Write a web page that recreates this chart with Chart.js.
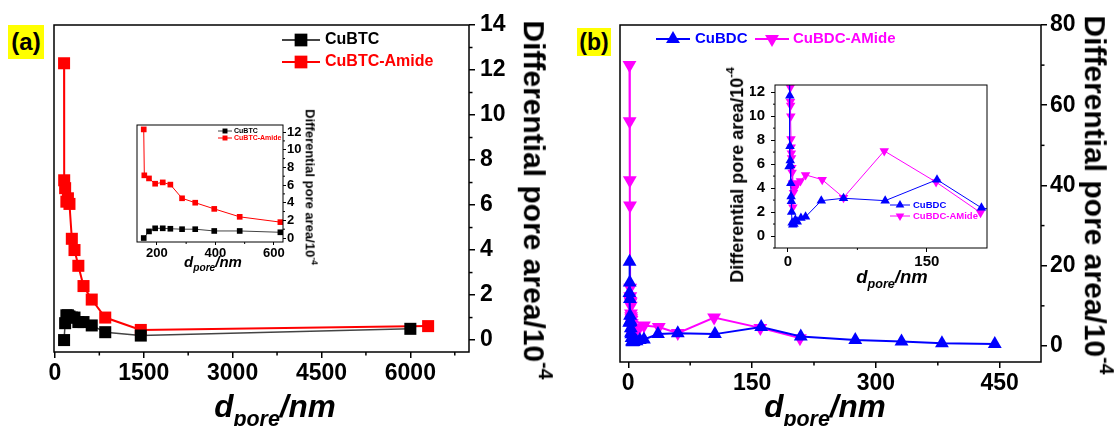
<!DOCTYPE html>
<html>
<head>
<meta charset="utf-8">
<script src="https://cdn.jsdelivr.net/npm/chart.js@4.4.1/dist/chart.umd.min.js"></script>
<style>
  body { margin: 0; background: #fff; }
  #wrap { position: relative; width: 1116px; height: 426px; overflow: hidden;
          font-family: 'Liberation Sans', Arial, sans-serif; font-weight: bold; color: #000; }
  canvas { position: absolute; }
  .tag { position: absolute; background: #ffff00; text-align: center; }
  .ttl { position: absolute; white-space: nowrap; line-height: 1; }
  .it { font-style: italic; }
  .sub { font-size: 0.68em; vertical-align: -0.4em; }
  .sup { font-size: 0.65em; vertical-align: 0.75em; }
</style>
</head>
<body>
<div id="wrap">
  <canvas id="mainA" width="560" height="426" style="left:0;top:0"></canvas>
  <canvas id="mainB" width="556" height="426" style="left:560px;top:0"></canvas>
  <canvas id="insetA" width="190" height="150" style="left:130px;top:115px"></canvas>
  <canvas id="insetB" width="260" height="200" style="left:740px;top:70px"></canvas>

  <div class="tag" style="left:8px;top:25px;width:36px;height:34px;line-height:34px;font-size:24px">(a)</div>
  <div class="tag" style="left:577px;top:28px;width:34px;height:28px;line-height:28px;font-size:23px">(b)</div>

  <div class="ttl it" style="left:275px;top:391px;font-size:31.5px;transform:translateX(-50%)">d<span class="sub">pore</span>/nm</div>
  <div class="ttl it" style="left:825px;top:391px;font-size:31.5px;transform:translateX(-50%)">d<span class="sub">pore</span>/nm</div>
  <div class="ttl" style="left:537px;top:200px;font-size:30px;transform:translate(-50%,-50%) rotate(90deg)">Differential pore area/10<span class="sup">-4</span></div>
  <div class="ttl" style="left:1098px;top:195px;font-size:30px;transform:translate(-50%,-50%) rotate(90deg)">Differential pore area/10<span class="sup">-4</span></div>

  <div class="ttl it" style="left:213px;top:254px;font-size:15px;transform:translateX(-50%)">d<span class="sub">pore</span>/nm</div>
  <div class="ttl" style="left:311px;top:187px;font-size:13px;transform:translate(-50%,-50%) rotate(90deg)">Differential pore area/10<span class="sup">-4</span></div>
  <div class="ttl it" style="left:892px;top:268px;font-size:18.5px;transform:translateX(-50%)">d<span class="sub">pore</span>/nm</div>
  <div class="ttl" style="left:735px;top:175px;font-size:18px;transform:translate(-50%,-50%) rotate(-90deg)">Differential pore area/10<span class="sup">-4</span></div>
</div>
<script>
// panel (a): CuBTC and CuBTC-Amide
const btcX   = [155, 173, 194, 220, 246, 286, 331, 396, 483, 622, 850, 1450, 6000];
const btcY   = [0.0, 0.75, 1.1, 1.1, 1.05, 1.0, 1.0, 0.8, 0.8, 0.65, 0.35, 0.2, 0.5];
const btcAmX = [155, 157, 173, 194, 220, 246, 286, 331, 396, 483, 622, 850, 1450, 6300];
const btcAmY = [12.3, 7.1, 6.75, 6.15, 6.3, 6.05, 4.5, 4.0, 3.3, 2.4, 1.8, 1.0, 0.45, 0.62];

// panel (b): CuBDC and CuBDC-AMide
const bdcX   = [1.2, 1.4, 1.6, 1.8, 2.0, 2.2, 2.5, 2.8, 3.1, 3.4, 3.7, 4.0, 4.5, 5.2, 6.5, 8.0, 10, 14, 19, 36, 60, 105, 161, 209, 275, 331, 380, 444];
const bdcY   = [5.8, 13.2, 21.0, 15.8, 11.7, 7.5, 6.3, 5.9, 4.4, 3.3, 2.9, 2.0, 1.1, 0.94, 1.0, 1.35, 1.2, 1.5, 1.6, 2.95, 3.15, 2.95, 4.7, 2.35, 1.5, 1.1, 0.66, 0.5];
const bdcAmX = [1.5, 1.7, 1.9, 2.1, 2.3, 2.5, 2.7, 2.9, 3.1, 3.3, 3.5, 3.7, 3.9, 4.2, 4.5, 4.9, 5.3, 6.0, 7.0, 8.5, 10.5, 13.5, 19, 37, 60, 104, 160, 208];
const bdcAmY = [70.0, 56.0, 41.3, 35.0, 14.5, 12.4, 11.2, 10.9, 10.0, 8.1, 7.4, 6.9, 6.5, 5.7, 5.3, 4.4, 2.4, 3.6, 3.9, 4.2, 4.4, 4.6, 5.1, 4.7, 3.2, 7.1, 4.5, 1.95];

// tick labels
const ticksAx   = [0, 1500, 3000, 4500, 6000];
const ticksAy   = [0, 2, 4, 6, 8, 10, 12, 14];
const ticksAinX = [200, 400, 600];
const ticksAinY = [0, 2, 4, 6, 8, 10, 12];
const ticksBx   = [0, 150, 300, 450];
const ticksBy   = [0, 20, 40, 60, 80];
const ticksBinX = [0, 150];
const ticksBinY = [0, 2, 4, 6, 8, 10, 12];

Chart.defaults.font.family = "'Liberation Sans', Arial, sans-serif";
Chart.defaults.font.weight = 'bold';
Chart.defaults.color = '#000';

function pts(xs, ys) {
    return xs.map((x, i) => ({ x: x, y: ys[i] }));
}

function series(label, xs, ys, color, lineColor, style, rot, r, bw, clip) {
    return {
        label: label,
        data: pts(xs, ys),
        borderColor: lineColor,
        backgroundColor: color,
        pointBackgroundColor: color,
        pointBorderColor: color,
        pointBorderWidth: 0,
        pointStyle: style,
        pointRotation: rot,
        pointRadius: r,
        pointHoverRadius: r,
        borderWidth: bw,
        showLine: true,
        tension: 0,
        clip: clip
    };
}

function axis(pos, min, max, ticks, size, fontSize, tickLen, pad, lw) {
    return {
        type: 'linear',
        position: pos,
        min: min,
        max: max,
        afterBuildTicks: s => { s.ticks = ticks.map(v => ({ value: v })); },
        afterFit: s => { if (pos === 'bottom') s.height = size; else s.width = size; },
        grid: { display: true, drawOnChartArea: false, drawTicks: true, tickLength: tickLen, color: '#000', lineWidth: lw },
        border: { display: false },
        ticks: { color: '#000', font: { size: fontSize, weight: 'bold' }, padding: pad,
                 autoSkip: false, maxRotation: 0, callback: v => String(v) }
    };
}

// box round the plot area
function framePlugin(lw) {
    return {
        id: 'frame',
        afterDraw(chart) {
            const { ctx, chartArea: a } = chart;
            ctx.save();
            ctx.strokeStyle = '#000';
            ctx.lineWidth = lw;
            ctx.strokeRect(a.left, a.top, a.right - a.left, a.bottom - a.top);
            ctx.restore();
        }
    };
}

// short ticks between the labelled ones
function minorPlugin(steps, len, lw) {
    return {
        id: 'minorTicks',
        afterDraw(chart) {
            const ctx = chart.ctx;
            ctx.save();
            ctx.strokeStyle = '#000';
            ctx.lineWidth = lw;
            Object.keys(steps).forEach(id => {
                const s = chart.scales[id], step = steps[id];
                const major = s.ticks.map(t => t.value);
                for (let v = Math.ceil(s.min / step) * step; v <= s.max + 1e-9; v += step) {
                    if (major.some(m => Math.abs(m - v) < step / 100)) continue;
                    const p = s.getPixelForValue(v);
                    ctx.beginPath();
                    if (s.position === 'bottom') { ctx.moveTo(p, s.top); ctx.lineTo(p, s.top + len); }
                    else if (s.position === 'right') { ctx.moveTo(s.left, p); ctx.lineTo(s.left + len, p); }
                    else { ctx.moveTo(s.right, p); ctx.lineTo(s.right - len, p); }
                    ctx.stroke();
                }
            });
            ctx.restore();
        }
    };
}

// Origin-style legend: line with marker through it
function legendPlugin(items, font, lw) {
    return {
        id: 'lineLegend',
        afterDraw(chart) {
            const ctx = chart.ctx;
            items.forEach((it, i) => {
                const ds = chart.data.datasets[i];
                ctx.save();
                ctx.strokeStyle = ds.borderColor;
                ctx.lineWidth = lw;
                ctx.beginPath();
                ctx.moveTo(it.x0, it.y);
                ctx.lineTo(it.x1, it.y);
                ctx.stroke();
                ctx.fillStyle = ds.pointBackgroundColor;
                Chart.helpers.drawPoint(ctx, { pointStyle: ds.pointStyle, rotation: ds.pointRotation, radius: it.r, borderWidth: 0 },
                    (it.x0 + it.x1) / 2, it.y);
                ctx.font = font;
                ctx.textAlign = 'left';
                ctx.textBaseline = 'middle';
                ctx.fillText(ds.label, it.tx, it.y);
                ctx.restore();
            });
        }
    };
}

function build(id, datasets, scales, padding, plugins) {
    return new Chart(document.getElementById(id), {
        type: 'scatter',
        data: { datasets: datasets },
        options: {
            responsive: false,
            animation: false,
            events: [],
            layout: { padding: padding },
            scales: scales,
            plugins: { legend: { display: false }, tooltip: { enabled: false } }
        },
        plugins: plugins
    });
}

// (a) main
build('mainA', [
    series('CuBTC', btcX, btcY, '#000', '#444', 'rect', 0, 8.5, 1.5, false),
    series('CuBTC-Amide', btcAmX, btcAmY, '#ff0000', '#ff0000', 'rect', 0, 8.5, 2, false)
], {
    x: axis('bottom', -15, 6990, ticksAx, 40, 23, 6, 2, 1.5),
    y: axis('right', -0.53, 14, ticksAy, 45, 23, 6, 5, 1.5)
}, { left: 54, top: 25, right: 46, bottom: 34 }, [
    framePlugin(1.5), minorPlugin({ x: 750, y: 1 }, 3.5, 1.5),
    legendPlugin([
        { x0: 282, x1: 320, y: 40, r: 9, tx: 325 },
        { x0: 282, x1: 320, y: 62, r: 9, tx: 325 }
    ], 'bold 16px "Liberation Sans", Arial, sans-serif', 2)
]);

// (a) inset
build('insetA', [
    series('CuBTC', btcX, btcY, '#000', '#444', 'rect', 0, 4, 1, 0),
    series('CuBTC-Amide', btcAmX, btcAmY, '#ff0000', '#ff0000', 'rect', 0, 4, 1, 0)
], {
    x: axis('bottom', 132, 631, ticksAinX, 20, 13, 3, 1, 1),
    y: axis('right', -0.45, 12.8, ticksAinY, 30, 13, 3, 1, 1)
}, { left: 7, top: 10, right: 7, bottom: 3 }, [
    framePlugin(1), minorPlugin({ x: 100, y: 1 }, 2, 1),
    legendPlugin([
        { x0: 88, x1: 102, y: 16, r: 3.5, tx: 104 },
        { x0: 88, x1: 102, y: 23, r: 3.5, tx: 104 }
    ], 'bold 7px "Liberation Sans", Arial, sans-serif', 1)
]);

// (b) main
build('mainB', [
    series('CuBDC', bdcX, bdcY, '#0000ff', '#0000ff', 'triangle', 0, 8, 2, false),
    series('CuBDC-AMide', bdcAmX, bdcAmY, '#ff00ff', '#ff00ff', 'triangle', 180, 8, 2, false)
], {
    x: axis('bottom', -10, 500, ticksBx, 40, 23, 6, 2, 1.5),
    y: axis('right', -4, 80, ticksBy, 45, 23, 6, 3, 1.5)
}, { left: 60, top: 25, right: 30, bottom: 24 }, [
    framePlugin(1.5), minorPlugin({ x: 75, y: 10 }, 3.5, 1.5),
    legendPlugin([
        { x0: 96, x1: 130, y: 39, r: 8, tx: 135 },
        { x0: 195, x1: 229, y: 39, r: 8, tx: 233 }
    ], 'bold 15px "Liberation Sans", Arial, sans-serif', 2)
]);

// (b) inset
build('insetB', [
    series('CuBDC', bdcX, bdcY, '#0000ff', '#0000ff', 'triangle', 0, 5.5, 1, 0),
    series('CuBDC-AMide', bdcAmX, bdcAmY, '#ff00ff', '#ff00ff', 'triangle', 180, 5.5, 1, 0)
], {
    x: axis('bottom', -14, 215, ticksBinX, 20, 15, 4, 1, 1),
    y: axis('left', -1, 12.6, ticksBinY, 25, 15, 4, 6, 1)
}, { left: 10, top: 10, right: 13, bottom: 2 }, [
    framePlugin(1), minorPlugin({ x: 75, y: 1 }, 2, 1),
    legendPlugin([
        { x0: 150, x1: 170, y: 135, r: 5, tx: 173 },
        { x0: 150, x1: 170, y: 146, r: 5, tx: 173 }
    ], 'bold 9.5px "Liberation Sans", Arial, sans-serif', 1)
]);
</script>
</body>
</html>
